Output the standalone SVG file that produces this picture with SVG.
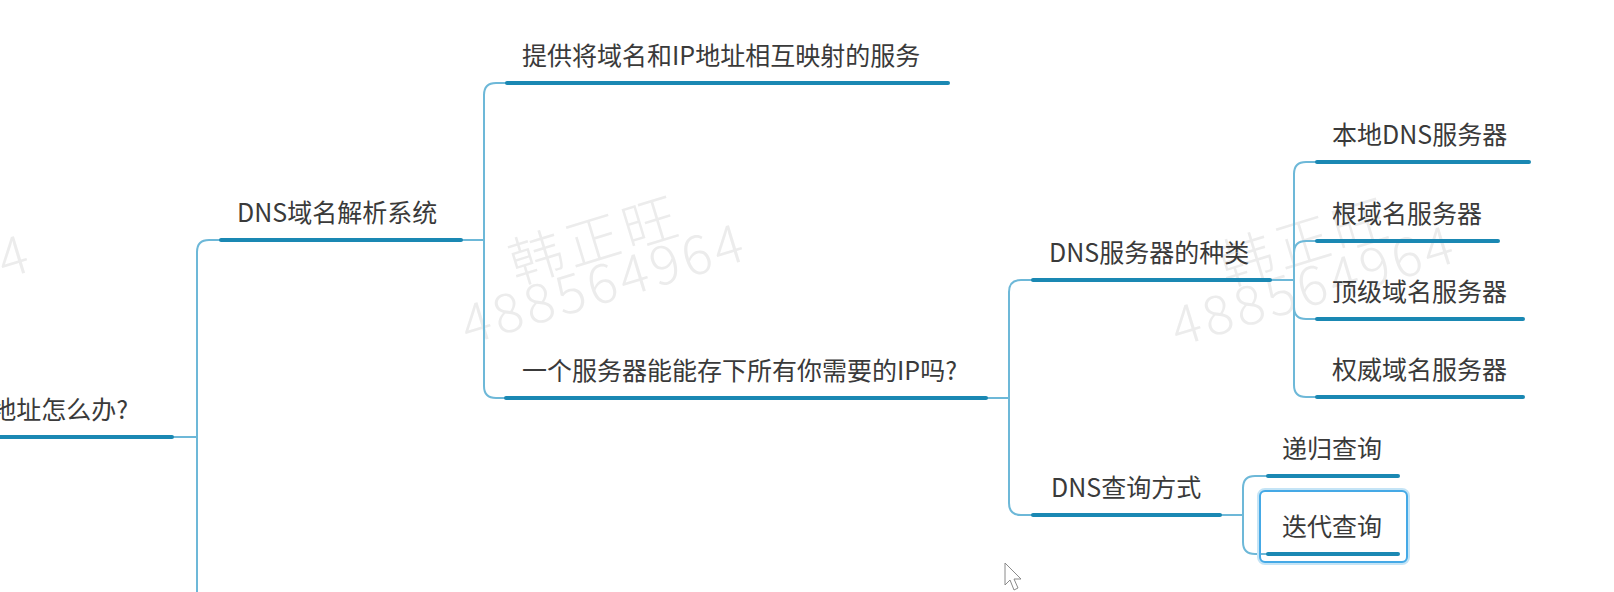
<svg xmlns="http://www.w3.org/2000/svg" width="1614" height="592" viewBox="0 0 1614 592">
<style>
  .bg{fill:#ffffff}
  .t{font-family:"Noto Sans CJK SC","Microsoft YaHei","Noto Sans",sans-serif;font-size:25px;fill:#3a3a3a}
  .ul{stroke:#1a88b3;stroke-width:4;stroke-linecap:round;fill:none}
  .cn{stroke:#6db8d8;stroke-width:2;fill:none;stroke-linecap:round}
  .wm{font-family:"Noto Sans CJK SC","Noto Sans",sans-serif;font-size:54px;fill:#ececec;font-weight:300}
</style>
<rect class="bg" x="0" y="0" width="1614" height="592"/>

<g id="watermarks">
  <g transform="translate(-247,356) rotate(-17)">
    <text class="wm" x="64" y="-44" letter-spacing="5">韩正旺</text>
    <text class="wm" x="0" y="0" letter-spacing="4">488564964</text>
  </g>
  <g transform="translate(468,345) rotate(-17)">
    <text class="wm" x="64" y="-44" letter-spacing="5">韩正旺</text>
    <text class="wm" x="0" y="0" letter-spacing="4">488564964</text>
  </g>
  <g transform="translate(1178,347) rotate(-17)">
    <text class="wm" x="64" y="-44" letter-spacing="5">韩正旺</text>
    <text class="wm" x="0" y="0" letter-spacing="4">488564964</text>
  </g>
</g>

<g id="connectors">
  <path class="cn" d="M174,437 H197"/>
  <path class="cn" d="M197,437 V252 Q197,240 209,240 H222"/>
  <path class="cn" d="M197,437 V600"/>

  <path class="cn" d="M461,240 H484"/>
  <path class="cn" d="M484,240 V95 Q484,83 496,83 H507"/>
  <path class="cn" d="M484,240 V386 Q484,398 496,398 H507"/>

  <path class="cn" d="M986,398 H1009"/>
  <path class="cn" d="M1009,398 V292 Q1009,280 1021,280 H1034"/>
  <path class="cn" d="M1009,398 V503 Q1009,515 1021,515 H1034"/>

  <path class="cn" d="M1270,280 H1294"/>
  <path class="cn" d="M1294,280 V174 Q1294,162 1306,162 H1318"/>
  <path class="cn" d="M1294,280 V253 Q1294,241 1306,241 H1318"/>
  <path class="cn" d="M1294,280 V307 Q1294,319 1306,319 H1318"/>
  <path class="cn" d="M1294,280 V385 Q1294,397 1306,397 H1318"/>

  <path class="cn" d="M1220,515 H1243"/>
  <path class="cn" d="M1243,515 V488 Q1243,476 1255,476 H1269"/>
  <path class="cn" d="M1243,515 V542 Q1243,554 1255,554 H1269"/>
</g>

<g id="n-root">
  <line class="ul" x1="-10" y1="437" x2="172" y2="437"/>
  <text class="t" x="128" y="419" text-anchor="end">地址怎么办?</text>
</g>

<g id="n-dns-system">
  <line class="ul" x1="221" y1="240" x2="461" y2="240"/>
  <text class="t" x="237" y="222">DNS域名解析系统</text>
</g>

<g id="n-service">
  <line class="ul" x1="507" y1="83" x2="948" y2="83"/>
  <text class="t" x="522" y="65">提供将域名和IP地址相互映射的服务</text>
</g>

<g id="n-question">
  <line class="ul" x1="506" y1="398" x2="986" y2="398"/>
  <text class="t" x="522" y="380">一个服务器能能存下所有你需要的IP吗?</text>
</g>

<g id="n-kinds">
  <line class="ul" x1="1033" y1="280" x2="1270" y2="280"/>
  <text class="t" x="1049" y="262">DNS服务器的种类</text>
</g>

<g id="n-local">
  <line class="ul" x1="1317" y1="162" x2="1529" y2="162"/>
  <text class="t" x="1332" y="144">本地DNS服务器</text>
</g>

<g id="n-root-server">
  <line class="ul" x1="1317" y1="241" x2="1498" y2="241"/>
  <text class="t" x="1332" y="223">根域名服务器</text>
</g>

<g id="n-tld">
  <line class="ul" x1="1317" y1="319" x2="1523" y2="319"/>
  <text class="t" x="1332" y="301">顶级域名服务器</text>
</g>

<g id="n-auth">
  <line class="ul" x1="1317" y1="397" x2="1523" y2="397"/>
  <text class="t" x="1332" y="379">权威域名服务器</text>
</g>

<g id="n-query">
  <line class="ul" x1="1033" y1="515" x2="1220" y2="515"/>
  <text class="t" x="1051" y="497">DNS查询方式</text>
</g>

<g id="n-recursive">
  <line class="ul" x1="1268" y1="476" x2="1398" y2="476"/>
  <text class="t" x="1282" y="458">递归查询</text>
</g>

<g id="n-iterative">
  <rect x="1259" y="490" width="149" height="73" rx="6" fill="none" stroke="#c4e4f6" stroke-width="4"/>
  <rect x="1260" y="491" width="147" height="71" rx="5" fill="none" stroke="#45a9e6" stroke-width="2"/>
  <line class="ul" x1="1268" y1="554" x2="1398" y2="554"/>
  <text class="t" x="1282" y="536">迭代查询</text>
</g>

<g id="cursor">
  <path d="M1005,563 L1005,585 L1010,580 L1014,590 L1018,588 L1014,579 L1021,579 Z" fill="#ffffff" stroke="#8a8a8a" stroke-width="1" stroke-linejoin="round"/>
</g>
</svg>
